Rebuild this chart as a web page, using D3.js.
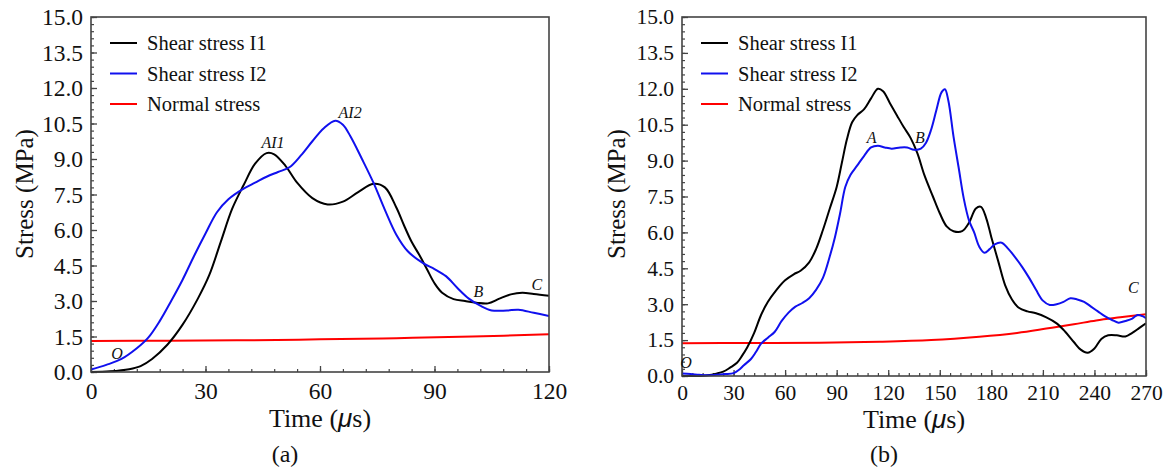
<!DOCTYPE html>
<html><head><meta charset="utf-8">
<script src="https://cdn.jsdelivr.net/npm/d3@7/dist/d3.min.js"></script>
<style>
body{margin:0;background:#fff;}
svg{display:block;font-family:"Liberation Serif","Times New Roman",serif;}
</style></head>
<body><svg id="chart" width="1168" height="472"></svg>
<script>
// ---------- data ----------
const seriesNames = ["Shear stress I1", "Shear stress I2", "Normal stress"];
const yTicks = [0, 1.5, 3, 4.5, 6, 7.5, 9, 10.5, 12, 13.5, 15];
const xTicksA = [0, 30, 60, 90, 120];
const xTicksB = [0, 30, 60, 90, 120, 150, 180, 210, 240, 270];

// Panel (a)
const tA_I1 = [0,5,10,13,16,20,24,28,31,34,37,40,43,46,48,51,54,58,62,66,70,74,77,80,82,84,86,88,90,92,95,98,101,104,107,110,113,116,120];
const vA_I1 = [0,0.03,0.12,0.25,0.55,1.15,2.0,3.1,4.1,5.5,6.9,7.9,8.8,9.25,9.2,8.7,8.0,7.35,7.08,7.2,7.6,7.95,7.8,6.95,6.2,5.5,4.95,4.35,3.75,3.35,3.08,3.0,2.93,2.9,3.1,3.28,3.35,3.3,3.22];
const tA_I2 = [0,4,8,12,15,18,21,24,27,30,33,36,40,43,46,49,52,55,58,61,64,66,68,71,74,77,80,83,87,90,93,96,99,102,105,109,112,116,120];
const vA_I2 = [0.1,0.3,0.55,1.0,1.45,2.15,3.0,3.9,4.9,5.85,6.75,7.3,7.75,8.0,8.25,8.45,8.65,9.15,9.75,10.3,10.62,10.45,9.95,9.0,8.0,6.85,5.8,5.1,4.6,4.35,4.05,3.55,3.1,2.8,2.6,2.6,2.63,2.5,2.37];
const tA_N = [0,20,40,60,80,100,120];
const vA_N = [1.31,1.32,1.34,1.38,1.43,1.5,1.59];

// Panel (b)
const tB_I1 = [0,10,15,20,24,28,32,35,38,42,46,50,55,60,65,69,74,78,82,86,90,93,96,99,102,106,110,114,117,121,125,129,133,137,141,146,150,154,158,163,167,171,174,177,180,184,188,192,196,201,206,212,218,223,228,232,236,240,244,248,253,258,262,266,270];
const vB_I1 = [0,0,0.03,0.1,0.18,0.35,0.55,0.85,1.2,1.8,2.55,3.1,3.6,4.0,4.25,4.4,4.75,5.3,6.1,7.0,7.9,8.9,9.9,10.6,10.9,11.15,11.6,12.0,11.9,11.4,10.9,10.4,9.95,9.3,8.4,7.5,6.8,6.25,6.05,6.05,6.4,7.0,7.07,6.6,5.8,4.8,3.8,3.2,2.85,2.7,2.62,2.45,2.2,1.85,1.42,1.1,0.97,1.15,1.55,1.7,1.7,1.65,1.8,2.0,2.2];
const tB_I2 = [0,5,10,15,20,25,30,33,36,40,43,46,50,54,58,62,66,70,74,78,82,86,89,92,95,98,102,106,110,114,118,122,127,131,135,139,142,145,148,151,153,155,158,161,164,167,170,173,176,179,182,186,190,194,198,202,206,210,214,218,222,226,230,234,238,242,246,250,254,258,262,265,268,270];
const vB_I2 = [0.1,0.08,0.05,0.03,0.05,0.08,0.12,0.25,0.45,0.7,1.0,1.35,1.6,1.85,2.3,2.65,2.9,3.05,3.25,3.6,4.1,5.0,5.8,6.8,7.9,8.4,8.8,9.2,9.55,9.62,9.55,9.5,9.55,9.55,9.45,9.5,9.75,10.3,11.1,11.85,11.98,11.5,10.0,8.7,7.4,6.5,6.0,5.4,5.15,5.3,5.5,5.57,5.3,4.95,4.55,4.1,3.6,3.15,2.97,3.0,3.1,3.25,3.2,3.1,2.9,2.7,2.5,2.35,2.23,2.3,2.4,2.55,2.5,2.41];
const tB_N = [0,40,80,115,145,173,195,212,228,241,255,270];
const vB_N = [1.37,1.38,1.39,1.43,1.5,1.64,1.8,1.98,2.16,2.32,2.45,2.58];

// point annotations
const annA = [{t:"O",x:6.8,y:0.55},{t:"AI1",x:47.7,y:9.46},{t:"AI2",x:67.9,y:10.73},{t:"B",x:101.5,y:3.17},{t:"C",x:116.8,y:3.46}];
const annB = [{t:"O",x:2.3,y:0.33},{t:"A",x:110.4,y:9.74},{t:"B",x:138.5,y:9.74},{t:"C",x:262.7,y:3.47}];

// ---------- drawing ----------
const svg = d3.select("#chart");
const colors = ["#000000", "#1010ee", "#ff0000"];

function zip(t, v){ return t.map((x,i)=>({x:x, y:v[i]})); }

function panel(cfg){
  const g = svg.append("g").attr("transform", `translate(${cfg.left},${cfg.top})`);
  const w = cfg.w, h = cfg.h;
  const x = d3.scaleLinear().domain([0, cfg.xmax]).range([0, w]);
  const y = d3.scaleLinear().domain([0, 15]).range([h, 0]);

  // minor ticks
  const minorY = d3.range(0, 15.0001, 0.3);
  g.append("g").call(d3.axisLeft(y).tickValues(minorY).tickSize(-3).tickFormat(""))
    .call(s=>s.select(".domain").remove()).selectAll("line").attr("stroke","#444").attr("stroke-width",1.2);
  const minorX = d3.range(0, cfg.xmax+0.001, 6);
  g.append("g").attr("transform",`translate(0,${h})`)
    .call(d3.axisBottom(x).tickValues(minorX).tickSize(-3).tickFormat(""))
    .call(s=>s.select(".domain").remove()).selectAll("line").attr("stroke","#444").attr("stroke-width",1.2);

  // major axes
  const ya = g.append("g").call(d3.axisLeft(y).tickValues(yTicks).tickSize(-6).tickPadding(8).tickFormat(d3.format(".1f")));
  ya.select(".domain").remove();
  ya.selectAll("line").attr("stroke","#444").attr("stroke-width",1.3);
  ya.selectAll("text").attr("font-size",cfg.fs).attr("fill","#111").attr("font-family","Liberation Serif");

  const xa = g.append("g").attr("transform",`translate(0,${h})`)
    .call(d3.axisBottom(x).tickValues(cfg.xticks).tickSize(-6).tickPadding(cfg.xpad).tickFormat(d3.format("d")));
  xa.select(".domain").remove();
  xa.selectAll("line").attr("stroke","#444").attr("stroke-width",1.3);
  xa.selectAll("text").attr("font-size",cfg.fs).attr("fill","#111").attr("font-family","Liberation Serif");

  // lines
  const line = d3.line().x(d=>x(d.x)).y(d=>y(d.y)).curve(d3.curveCatmullRom.alpha(0.5));
  const clipId = "clip"+cfg.id;
  g.append("clipPath").attr("id",clipId).append("rect").attr("width",w).attr("height",h+1);
  const lg = g.append("g").attr("clip-path",`url(#${clipId})`);
  [2,0,1].forEach(i=>{
    lg.append("path").datum(cfg.data[i]).attr("d",line)
      .attr("fill","none").attr("stroke",colors[i]).attr("stroke-width",2);
  });

  // frame
  g.append("rect").attr("width",w).attr("height",h).attr("fill","none")
    .attr("stroke","#444").attr("stroke-width",1.6);

  // legend
  seriesNames.forEach((n,i)=>{
    const ly = 26 + i*30.5;
    g.append("line").attr("x1",19).attr("x2",46).attr("y1",ly).attr("y2",ly)
      .attr("stroke",colors[i]).attr("stroke-width",2);
    g.append("text").attr("x",56).attr("y",ly+7).attr("font-size",20.5).attr("fill","#111").text(n);
  });

  // annotations
  cfg.ann.forEach(a=>{
    g.append("text").attr("x",x(a.x)).attr("y",y(a.y)).attr("font-size",16)
      .attr("font-style","italic").attr("text-anchor","middle").attr("fill","#111").text(a.t);
  });

  // axis titles
  g.append("text").attr("transform",`translate(${cfg.ytx},177) rotate(-90)`)
    .attr("text-anchor","middle").attr("font-size",25).attr("fill","#111").text("Stress (MPa)");
  const xt = g.append("text").attr("x",w/2).attr("y",cfg.xty - cfg.top).attr("text-anchor","middle")
    .attr("font-size",26).attr("fill","#111");
  xt.append("tspan").text("Time (");
  xt.append("tspan").attr("font-family","Liberation Sans").attr("font-style","italic").text("\u03bc");
  xt.append("tspan").text("s)");
  g.append("text").attr("x",w/2+cfg.capDx).attr("y",462 - cfg.top).attr("text-anchor","middle")
    .attr("font-size",24).attr("fill","#111").text(cfg.cap);
}

panel({id:"a", left:91, top:17, w:458, h:355, xmax:120, xticks:xTicksA, xpad:10, fs:23.5, ytx:-58, xty:427, cap:"(a)", capDx:-35,
  data:[zip(tA_I1,vA_I1), zip(tA_I2,vA_I2), zip(tA_N,vA_N)], ann:annA});
panel({id:"b", left:682, top:17, w:464, h:359, xmax:270, xticks:xTicksB, xpad:9, fs:21.5, ytx:-57, xty:428, cap:"(b)", capDx:-30,
  data:[zip(tB_I1,vB_I1), zip(tB_I2,vB_I2), zip(tB_N,vB_N)], ann:annB});
</script>
</body></html>
